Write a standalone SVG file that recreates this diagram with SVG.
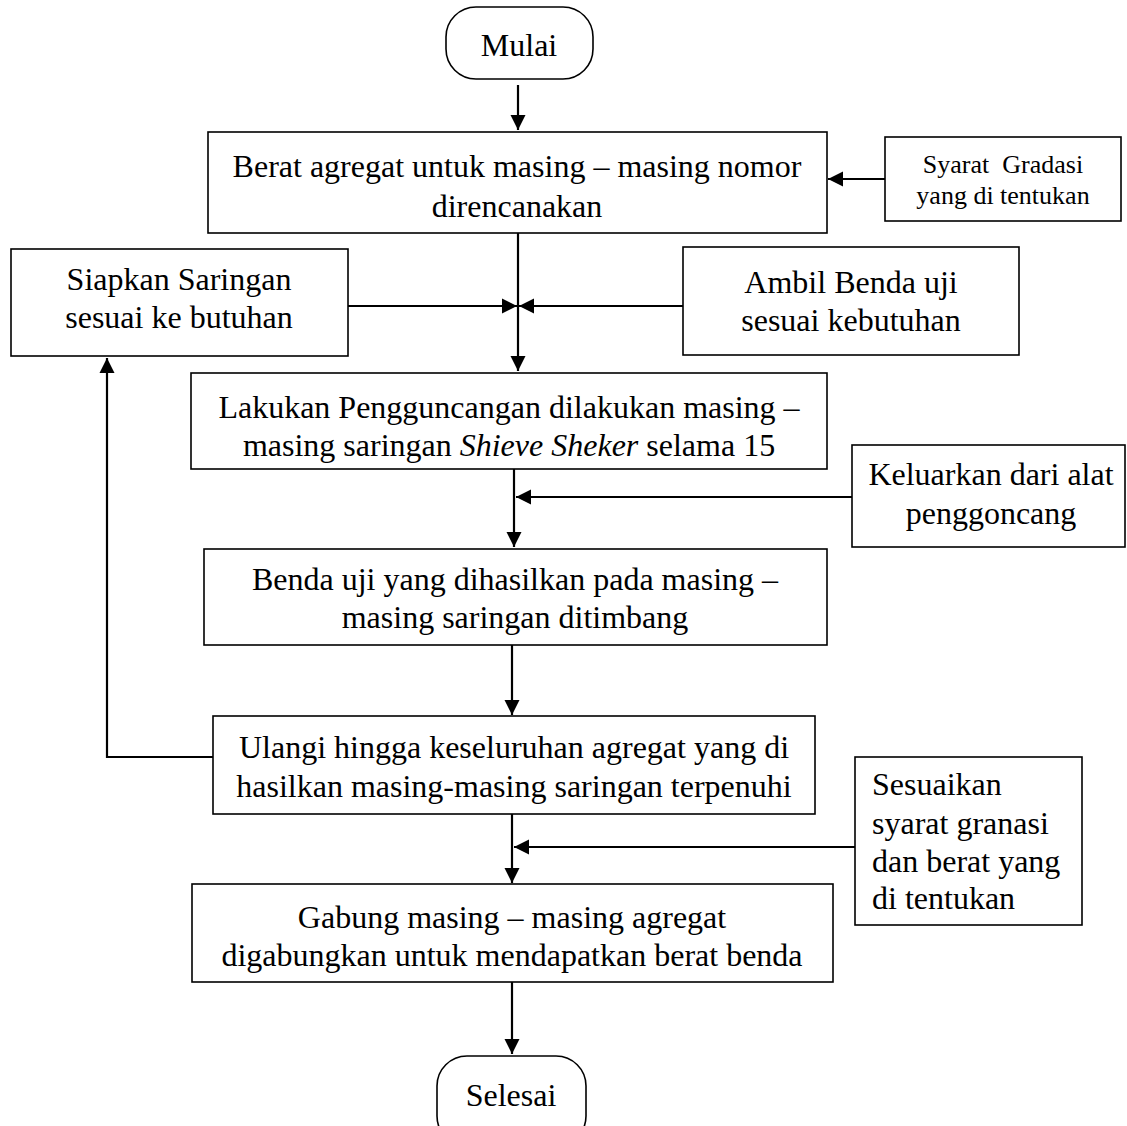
<svg xmlns="http://www.w3.org/2000/svg" width="1127" height="1126" viewBox="0 0 1127 1126">
<style>
.box{fill:#fff;stroke:#000;stroke-width:1.6}
.t{font-family:"Liberation Serif","Times New Roman",serif;font-size:32px;fill:#000;text-anchor:middle}
.s{font-size:26px;white-space:pre}
.l{text-anchor:start}
.c{fill:none;stroke:#000;stroke-width:2.2}
</style>
<defs>
<marker id="ah" viewBox="0 0 10 10" refX="10" refY="5" markerWidth="7" markerHeight="7" markerUnits="strokeWidth" orient="auto">
<path d="M0,0 L10,5 L0,10 Z" fill="#000"/>
</marker>
</defs>
<rect width="1127" height="1126" fill="#fff"/>
<g id="connectors">
<path class="c" d="M518,85 V130" marker-end="url(#ah)"/>
<path class="c" d="M885,179 H828" marker-end="url(#ah)"/>
<path class="c" d="M518,233 V371" marker-end="url(#ah)"/>
<path class="c" d="M348,306 H517" marker-end="url(#ah)"/>
<path class="c" d="M683,306 H519" marker-end="url(#ah)"/>
<path class="c" d="M514,469 V547" marker-end="url(#ah)"/>
<path class="c" d="M852,497 H516" marker-end="url(#ah)"/>
<path class="c" d="M512,645 V715" marker-end="url(#ah)"/>
<path class="c" d="M213,757 H107 V358" marker-end="url(#ah)"/>
<path class="c" d="M512,814 V883" marker-end="url(#ah)"/>
<path class="c" d="M855,847 H514" marker-end="url(#ah)"/>
<path class="c" d="M512,982 V1054" marker-end="url(#ah)"/>
</g>
<g id="mulai">
<rect class="box" x="446" y="7" width="147" height="72" rx="30" ry="30"/>
<text class="t" x="519" y="56">Mulai</text>
</g>
<g id="berat">
<rect class="box" x="208" y="132" width="619" height="101"/>
<text class="t" x="517" y="177">Berat agregat untuk masing – masing nomor</text>
<text class="t" x="517" y="217">direncanakan</text>
</g>
<g id="syarat">
<rect class="box" x="885" y="137" width="236" height="84"/>
<text class="t s" x="1003" y="173" xml:space="preserve">Syarat  Gradasi</text>
<text class="t s" x="1003" y="204">yang di tentukan</text>
</g>
<g id="siapkan">
<rect class="box" x="11" y="249" width="337" height="107"/>
<text class="t" x="179" y="290">Siapkan Saringan</text>
<text class="t" x="179" y="328">sesuai ke butuhan</text>
</g>
<g id="ambil">
<rect class="box" x="683" y="247" width="336" height="108"/>
<text class="t" x="851" y="293">Ambil Benda uji</text>
<text class="t" x="851" y="331">sesuai kebutuhan</text>
</g>
<g id="lakukan">
<rect class="box" x="191" y="373" width="636" height="96"/>
<text class="t" x="509" y="418">Lakukan Pengguncangan dilakukan masing –</text>
<text class="t" x="509" y="456">masing saringan <tspan font-style="italic">Shieve Sheker</tspan> selama 15</text>
</g>
<g id="keluarkan">
<rect class="box" x="852" y="445" width="273" height="102"/>
<text class="t" x="991" y="485">Keluarkan dari alat</text>
<text class="t" x="991" y="524">penggoncang</text>
</g>
<g id="benda">
<rect class="box" x="204" y="549" width="623" height="96"/>
<text class="t" x="515" y="590">Benda uji yang dihasilkan pada masing –</text>
<text class="t" x="515" y="628">masing saringan ditimbang</text>
</g>
<g id="ulangi">
<rect class="box" x="213" y="716" width="602" height="98"/>
<text class="t" x="514" y="758">Ulangi hingga keseluruhan agregat yang di</text>
<text class="t" x="514" y="797">hasilkan masing-masing saringan terpenuhi</text>
</g>
<g id="sesuaikan">
<rect class="box" x="855" y="757" width="227" height="168"/>
<text class="t l" x="872" y="795">Sesuaikan</text>
<text class="t l" x="872" y="834">syarat granasi</text>
<text class="t l" x="872" y="872">dan berat yang</text>
<text class="t l" x="872" y="909">di tentukan</text>
</g>
<g id="gabung">
<rect class="box" x="192" y="884" width="641" height="98"/>
<text class="t" x="512" y="928">Gabung masing – masing agregat</text>
<text class="t" x="512" y="966">digabungkan untuk mendapatkan berat benda</text>
</g>
<g id="selesai">
<rect class="box" x="437" y="1056" width="149" height="90" rx="30" ry="30"/>
<text class="t" x="511" y="1106">Selesai</text>
</g>
</svg>
